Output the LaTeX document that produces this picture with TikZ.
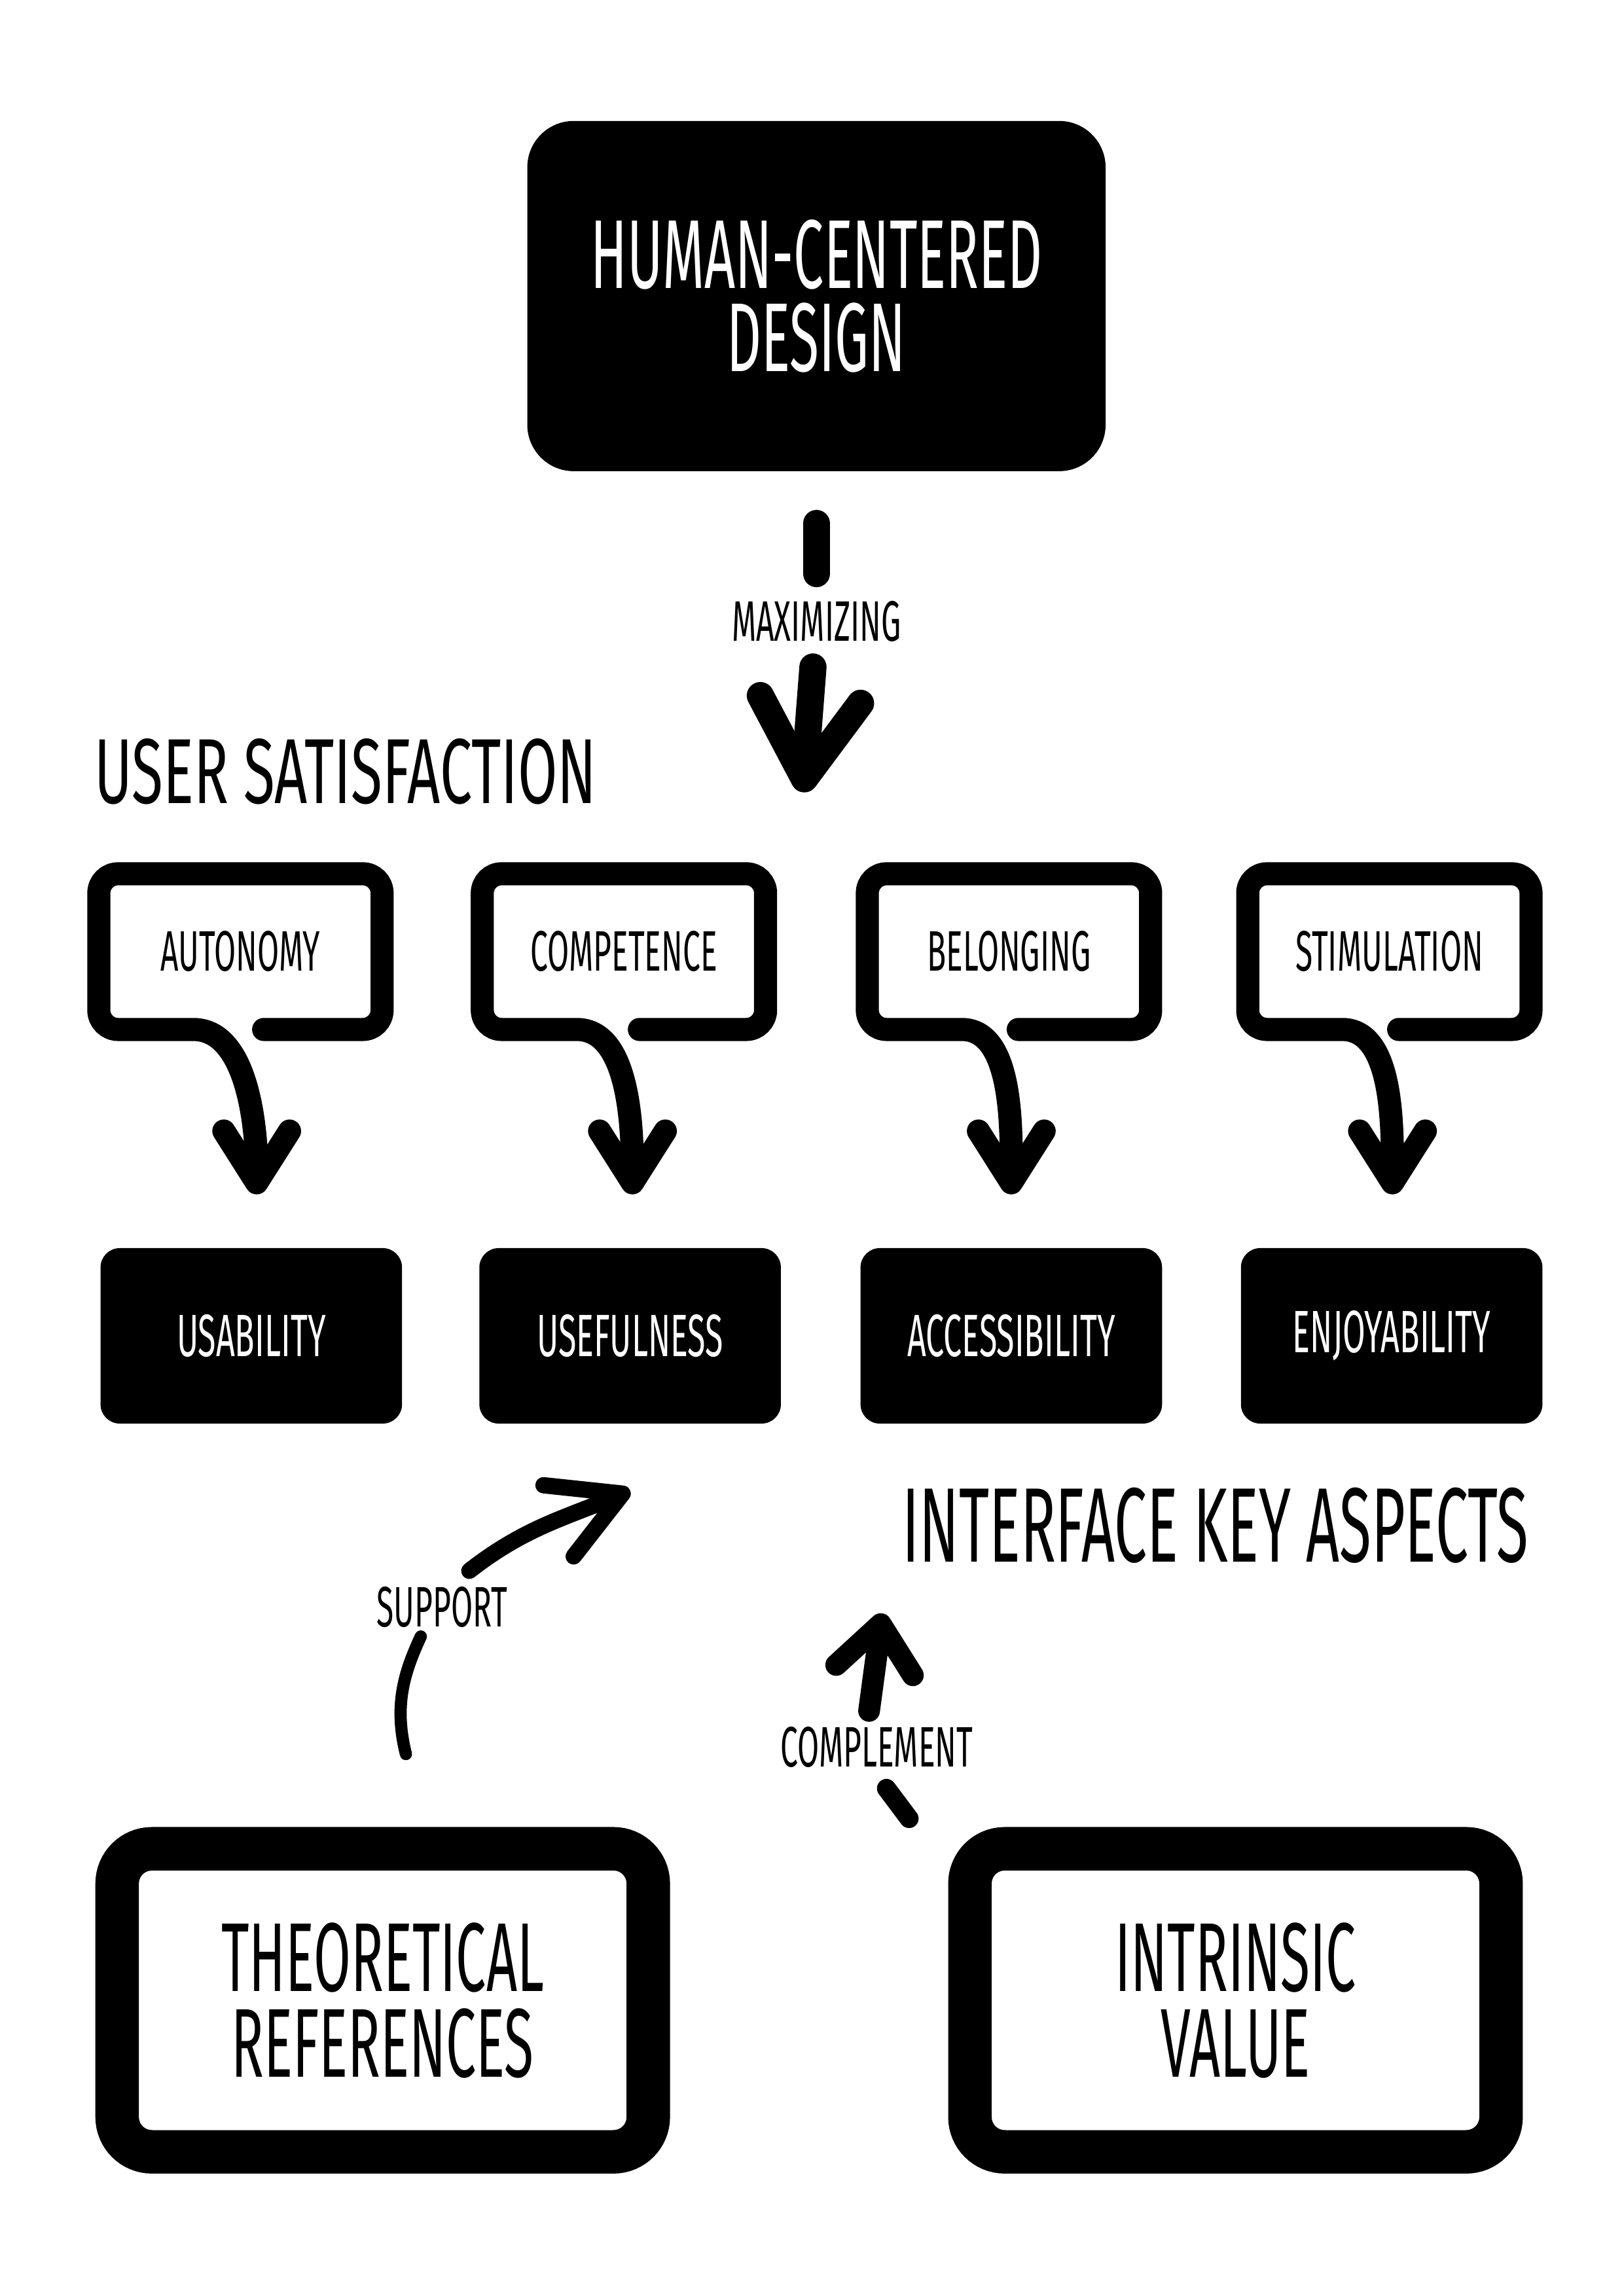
\documentclass[tikz,border=0pt]{standalone}
\usepackage{fontspec}
\setmainfont{Fira Sans}
\newfontfamily\handfont[FakeStretch=0.55]{Fira Sans}
\newfontfamily\widehand[FakeStretch=0.62]{Fira Sans}
\usetikzlibrary{positioning, arrows.meta, calc}

\begin{document}
\begin{tikzpicture}[
    rim/.style={line width=8.5pt, line cap=round, rounded corners=0.25cm},
    bubble/.style={rectangle, minimum width=3.65cm, minimum height=2.0cm, font=\handfont\fontsize{21}{24}\selectfont},
    keybox/.style={rectangle, fill=black, rounded corners=0.25cm, minimum width=3.9cm, minimum height=2.27cm,
                   text=white, font=\handfont\fontsize{22}{24}\selectfont},
    basebox/.style={rectangle, draw=black, fill=white, line width=16pt, rounded corners=0.45cm,
                    minimum width=6.87cm, minimum height=3.92cm, align=center, font=\handfont\fontsize{36}{31.5}\selectfont},
    linktext/.style={inner sep=0pt, font=\handfont\fontsize{21}{24}\selectfont},
    heading/.style={font=\handfont\fontsize{39}{44}\selectfont},
    pointer/.style={-{Straight Barb[length=0.67cm, width=0.85cm, round]}}
]
    \fill[white] (0,0) rectangle (21,29.7);
    \useasboundingbox (0,0) rectangle (21,29.7);

    % --- Top ---
    \node[rectangle, fill=black, rounded corners=0.6cm, minimum width=7.48cm, minimum height=4.53cm,
          text=white, align=center, font=\handfont\fontsize{36}{30.5}\selectfont]
          (hcd) at (10.56, 25.87) {HUMAN-CENTERED\\DESIGN};

    \node[linktext] (maxlbl) at (10.56, 21.66) {MAXIMIZING};
    \coordinate (maxtip) at (10.39, 19.45);
    \draw[line width=10pt, line cap=round, shorten <=0.67cm, shorten >=0.62cm] (hcd.south) -- (maxlbl.center);
    \draw[line width=10pt, line cap=round, shorten <=0.59cm,
          -{Straight Barb[length=1.03cm, width=1.3cm, round]}] (maxlbl.center) -- (maxtip);

    \node[font=\widehand\fontsize{34}{40}\selectfont] (usat) at (4.47, 19.72) {USER SATISFACTION};

    % --- Needs (speech bubbles) ---
    \node[bubble] (aut) at (3.11, 17.39) {AUTONOMY};
    \node[bubble] (comp) at (8.07, 17.39) {COMPETENCE};
    \node[bubble] (bel) at (13.05, 17.39) {BELONGING};
    \node[bubble] (stim) at (17.97, 17.39) {STIMULATION};

    \coordinate (auttip) at (3.32, 14.25);
    \coordinate (comptip) at (8.18, 14.25);
    \coordinate (beltip) at (13.08, 14.25);
    \coordinate (stimtip) at (18.01, 14.25);

    \draw[rim, pointer] ($(aut.south)+(0.3,0)$) -| (aut.north east) -| (aut.south west)
        -- ($(aut.south)+(-0.86,0)$) to[out=0, in=90] (auttip);
    \draw[rim, pointer] ($(comp.south)+(0.2,0)$) -| (comp.north east) -| (comp.south west)
        -- ($(comp.south)+(-0.86,0)$) to[out=0, in=90] (comptip);
    \draw[rim, pointer] ($(bel.south)+(0.12,0)$) -| (bel.north east) -| (bel.south west)
        -- ($(bel.south)+(-0.86,0)$) to[out=0, in=90] (beltip);
    \draw[rim, pointer] ($(stim.south)+(0.12,0)$) -| (stim.north east) -| (stim.south west)
        -- ($(stim.south)+(-0.86,0)$) to[out=0, in=90] (stimtip);

    % --- Interface key aspects ---
    \node[keybox] (usab) at (3.25, 12.42) {USABILITY};
    \node[keybox] (usef) at (8.15, 12.42) {USEFULNESS};
    \node[keybox] (acc) at (13.08, 12.42) {ACCESSIBILITY};
    \node[keybox] (enj) at (18.00, 12.42) {ENJOYABILITY};

    \node[heading] (ika) at (15.72, 9.97) {INTERFACE KEY ASPECTS};

    % --- Bases ---
    \node[basebox] (theo) at (4.95, 3.825) {THEORETICAL\\REFERENCES};
    \node[basebox] (intr) at (15.98, 3.825) {INTRINSIC\\VALUE};

    % support
    \node[linktext] (suplbl) at (5.72, 8.91) {SUPPORT};
    \coordinate (supfoot) at (5.25, 7.01);
    \coordinate (suptip) at (8.15, 10.42);
    \draw[line width=4.5pt, line cap=round, shorten >=0.12cm] (supfoot) to[out=104, in=245] (suplbl.-130);
    \draw[line width=6pt, line cap=round, -{Straight Barb[length=0.9cm, width=1.0cm, round]}]
        ($(suplbl.north)+(0.35,0.2)$) to[out=38, in=203] (suptip);

    % complement
    \node[linktext] (cmplbl) at (11.34, 7.10) {COMPLEMENT};
    \coordinate (cmpfoot) at (11.83, 6.08);
    \coordinate (cmptip) at (11.41, 8.83);
    \draw[line width=7pt, line cap=round, shorten <=0.12cm, shorten >=0.33cm] (cmpfoot) -- (cmplbl.-105);
    \draw[line width=8pt, line cap=round, shorten <=0.2cm,
          -{Straight Barb[length=0.6cm, width=1.0cm, round]}] (cmplbl.115) -- (cmptip);

\end{tikzpicture}
\end{document}
